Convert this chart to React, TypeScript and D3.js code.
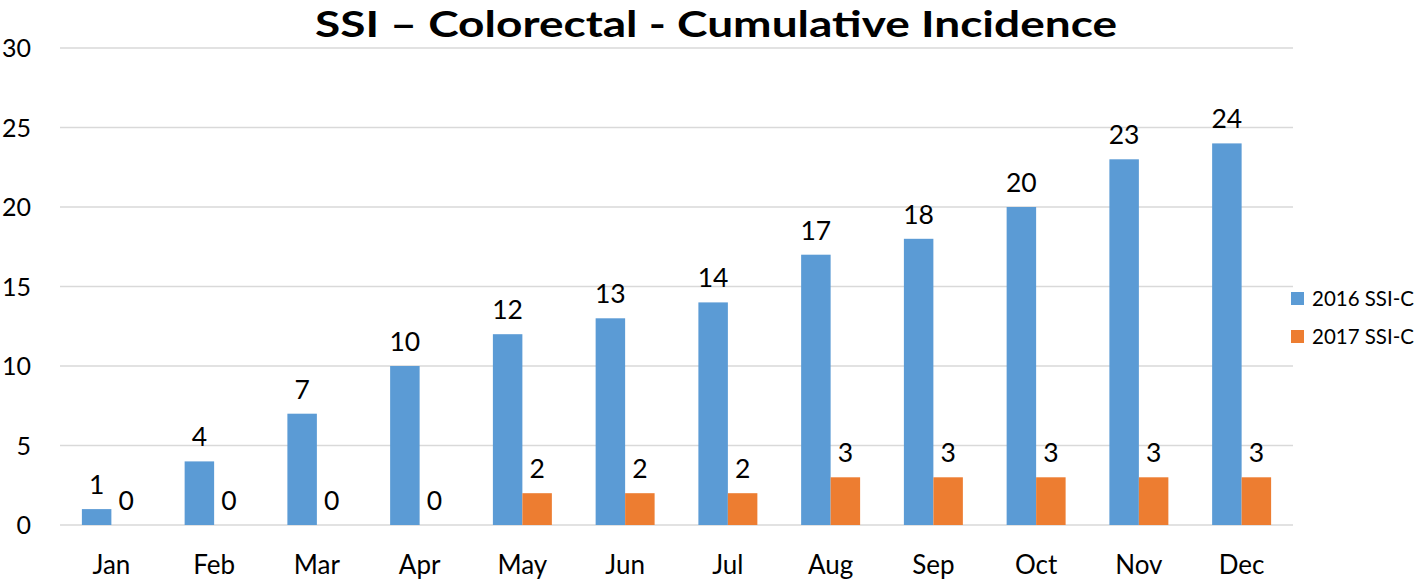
import * as d3 from 'd3';

const months = ['Jan', 'Feb', 'Mar', 'Apr', 'May', 'Jun', 'Jul', 'Aug', 'Sep', 'Oct', 'Nov', 'Dec'];
const series2016 = [1, 4, 7, 10, 12, 13, 14, 17, 18, 20, 23, 24];
const series2017 = [0, 0, 0, 0, 2, 2, 2, 3, 3, 3, 3, 3];
const seriesNames = ['2016 SSI-C', '2017 SSI-C'];
const yTicks = [0, 5, 10, 15, 20, 25, 30];
const title = 'SSI – Colorectal - Cumulative Incidence';

const width = 1418;
const height = 581;
const colors = ['#5B9BD5', '#ED7D31'];
const gridColor = '#d9d9d9';
const font = 'Lato, "Open Sans", sans-serif';
const plot = { left: 60, right: 1293, top: 48, bottom: 525 };

export default function App() {
  // x: months, then two bars inside each month
  const x = d3
    .scaleBand<string>()
    .domain(months)
    .range([plot.left, plot.right])
    .paddingInner(0.426)
    .paddingOuter(0.213);
  const xSub = d3.scaleBand<number>().domain([0, 1]).range([0, x.bandwidth()]);
  const y = d3.scaleLinear().domain([0, 30]).range([plot.bottom, plot.top]);

  const allSeries = [series2016, series2017];

  return (
    <svg
      width={width}
      height={height}
      style={{ position: 'absolute', left: 0, top: 0, background: '#fff' }}
      fontFamily={font}
    >
      <rect width={width} height={height} fill="#fff" />
      <text
        x={716}
        y={36.5}
        textAnchor="middle"
        fontSize={37}
        fontWeight="bold"
        textLength={802}
        lengthAdjust="spacingAndGlyphs"
      >
        {title}
      </text>

      {/* grid + y ticks */}
      {yTicks.map((t) => (
        <g key={t}>
          <line x1={plot.left} x2={plot.right} y1={y(t)} y2={y(t)} stroke={gridColor} strokeWidth={1.5} />
          <text x={31} y={y(t) + 9} textAnchor="end" fontSize={25} fill="#000">
            {t}
          </text>
        </g>
      ))}

      {/* bars */}
      {allSeries.map((s, si) =>
        s.map((v, i) => {
          const bx = (x(months[i]) ?? 0) + (xSub(si) ?? 0);
          const bw = xSub.bandwidth();
          return (
            <g key={`${si}-${i}`}>
              <rect x={bx} y={y(v)} width={bw} height={y(0) - y(v)} fill={colors[si]} />
              <text x={bx + bw / 2} y={y(v) - 15} textAnchor="middle" fontSize={26.5} fill="#000">
                {v}
              </text>
            </g>
          );
        })
      )}

      {/* x labels */}
      {months.map((m) => (
        <text
          key={m}
          x={(x(m) ?? 0) + x.bandwidth() / 2}
          y={574}
          textAnchor="middle"
          fontSize={26}
          fill="#000"
        >
          {m}
        </text>
      ))}

      {/* legend */}
      {seriesNames.map((n, i) => (
        <g key={n} transform={`translate(1291, ${292 + i * 38})`}>
          <rect width={13} height={13} fill={colors[i]} />
          <text x={21} y={14} fontSize={21} fill="#000" textLength={102} lengthAdjust="spacingAndGlyphs">
            {n}
          </text>
        </g>
      ))}
    </svg>
  );
}
